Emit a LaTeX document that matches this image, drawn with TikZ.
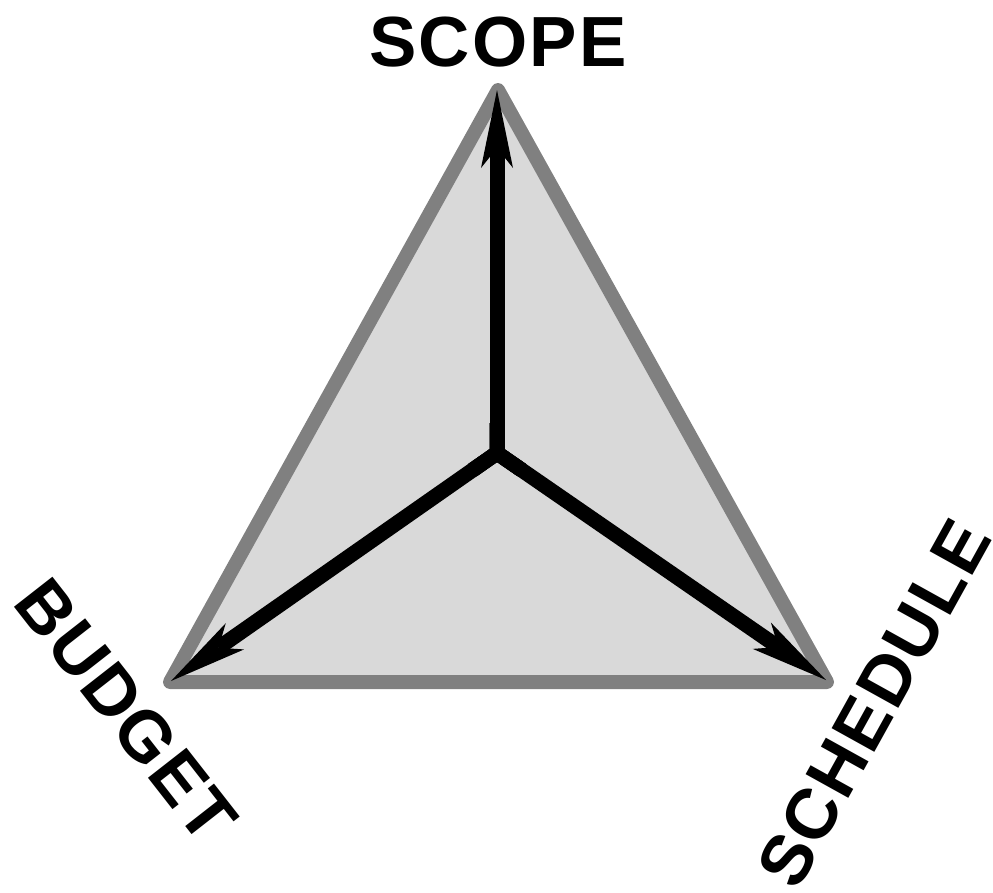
\documentclass[tikz,border=0pt]{standalone}
\usepackage{fontspec}
\setmainfont{Liberation Sans}
\usetikzlibrary{arrows.meta,calc}
\definecolor{edgegray}{HTML}{808080}
\definecolor{fillgray}{HTML}{D9D9D9}
\tikzset{
  tri/.style={draw=edgegray, fill=fillgray, line width=14pt, line join=round},
  axis/.style={draw=black, line width=15pt,
    -{Stealth[length=78pt,width=32pt,inset=20pt,line width=0pt]}},
  lbl/.style={font=\fontsize{71}{80}\selectfont\bfseries\addfontfeature{LetterSpace=3}, inner sep=0pt,
    text height=51pt, text depth=0pt, anchor=center}
}
\begin{document}
\begin{tikzpicture}[x=1pt,y=-1pt]
\useasboundingbox (0,0) rectangle (993,892);
\coordinate (T) at (498,90);
\coordinate (L) at (170,682);
\coordinate (R) at (827,682);
\coordinate (C) at (497,453);
\coordinate (Ttip) at (497,90);
\coordinate (Ltip) at (171,681);
\coordinate (Rtip) at (826,680);
\draw[tri] (T) -- (L) -- (R) -- cycle;
\draw[axis] (C) -- (Ttip);
\draw[axis] (C) -- (Ltip);
\draw[axis] (C) -- (Rtip);
\draw[line width=15pt, line join=miter] ($(C)!30pt!(Ltip)$) -- (C) -- ($(C)!30pt!(Rtip)$);
\draw[line width=15pt, line join=miter] ($(C)!30pt!(Ttip)$) -- (C) -- ($(C)!30pt!(Rtip)$);
\draw[line width=15pt, line join=miter] ($(C)!30pt!(Ttip)$) -- (C) -- ($(C)!30pt!(Ltip)$);
\node[lbl] (scope) at (498,41) {SCOPE};
\node[lbl, rotate=-52] (budget) at (127,710) {BUDGET};
\node[lbl, rotate=61] (schedule) at (873,703) {SCHEDULE};
\end{tikzpicture}
\end{document}
